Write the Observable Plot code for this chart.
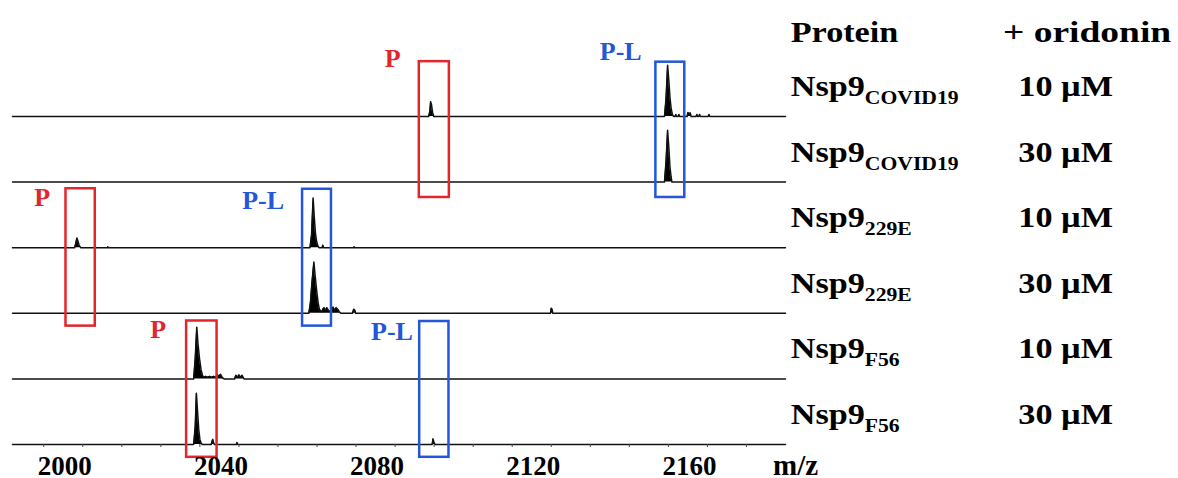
<!DOCTYPE html>
<html><head><meta charset="utf-8">
<script src="https://cdn.jsdelivr.net/npm/d3@7"></script>
<script src="https://cdn.jsdelivr.net/npm/@observablehq/plot@0.6"></script>
<style>body{margin:0;background:#fff}#chart{width:1178px;height:478px}</style>
</head><body><div id="chart"></div><script>
// ---- data ----
const rowStep = 128; // vertical offset between stacked spectra (intensity units)
const proteins = ["COVID19","COVID19","229E","229E","F56","F56"];
const doses = ["10 µM","30 µM","10 µM","30 µM","10 µM","30 µM"];
// spectra: [m/z, relative intensity]
const specCovid10 = [[1992,0],[2098.6,0],[2098.9,10],[2099.1,29],[2099.3,24],[2099.6,8],[2099.9,0],
  [2159.0,0],[2159.4,35],[2159.8,100],[2160.1,72],[2160.4,38],[2160.7,16],[2161.0,5],[2161.3,0],
  [2161.7,0],[2161.9,4],[2162.1,0],[2162.5,0],[2162.7,4],[2162.9,0],
  [2164.8,0],[2165.0,8],[2165.3,5],[2165.6,7],[2165.8,0],[2167.1,0],[2167.3,4],[2167.5,0],
  [2167.8,0],[2168.0,4],[2168.2,0],[2170.2,0],[2170.4,4],[2170.6,0],[2190,0]];
const specCovid30 = [[1992,0],[2159.0,0],[2159.4,40],[2159.8,101],[2160.1,70],[2160.4,30],[2160.7,10],[2160.9,0],[2190,0]];
const spec229E10 = [[1992,0],[2007.9,0],[2008.2,8],[2008.5,19],[2008.8,12],[2009.1,4],[2009.5,0],
  [2016.3,0],[2016.4,2],[2016.5,0],
  [2068.2,0],[2068.6,25],[2069.0,97],[2069.3,60],[2069.6,28],[2069.9,12],[2070.2,4],[2070.5,0],
  [2071.3,0],[2071.5,5],[2071.7,0],[2079.4,0],[2079.5,2],[2079.6,0],[2190,0]];
const spec229E30 = [[1992,0],[2067.9,0],[2068.3,20],[2068.7,60],[2069.2,100],[2069.5,75],[2069.9,45],[2070.3,20],
  [2070.6,8],[2070.9,5],[2071.2,3],[2071.5,8],[2071.8,11],[2072.1,5],[2072.5,11],[2072.9,6],[2073.3,3],
  [2073.7,9],[2074.1,12],[2074.5,6],[2074.9,11],[2075.3,8],[2075.7,3],[2076.1,0],
  [2079.1,0],[2079.4,8],[2079.7,6],[2079.9,0],[2129.8,0],[2130.0,10],[2130.2,8],[2130.4,0],[2190,0]];
const specF5610 = [[1992,0],[2038.4,0],[2038.8,40],[2039.2,101],[2039.5,70],[2039.9,40],[2040.3,18],[2040.7,6],
  [2041.0,3],[2041.5,5],[2042.0,3],[2042.5,5],[2043.0,3],[2043.5,5],[2044.0,3],[2044.5,8],[2044.9,5],
  [2045.3,9],[2045.7,3],[2046.2,0],[2048.9,0],[2049.2,7],[2049.6,3],[2050.0,8],[2050.4,3],[2050.8,7],[2051.3,0],[2190,0]];
const specF5630 = [[1992,0],[2038.4,0],[2038.8,35],[2039.1,100],[2039.4,65],[2039.7,30],[2040.0,10],[2040.3,3],[2040.6,0],
  [2042.9,0],[2043.1,6],[2043.3,10],[2043.5,4],[2043.7,0],[2049.4,0],[2049.5,4],[2049.7,0],
  [2099.5,0],[2099.7,11],[2099.9,6],[2100.2,0],[2190,0]];
const spectra = [specCovid10, specCovid30, spec229E10, spec229E30, specF5610, specF5630];
// highlight boxes
const boxGroups = ["P","P-L","P","P-L","P","P-L"];
const boxMz1 = [2096.2, 2156.8, 2005.7, 2066.3, 2036.6, 2096.3];
const boxMz2 = [2103.9, 2164.2, 2013.2, 2073.7, 2044.4, 2103.8];
const boxTop = [747, 746, 499, 498, 241, 240];
const boxBottom = [482, 482, 231, 231, -25, -25];
// box labels
const labelText = ["P","P-L","P","P-L","P","P-L"];
const labelMz = [2089.4, 2147.8, 1999.6, 2056.2, 2029.3, 2089.2];
const labelY = [753, 767, 482, 476, 224, 220];
// axis
const minorTicks = d3.range(2000, 2181, 10);
const tickLabels = [2000, 2040, 2080, 2120, 2160];

// ---- build tables ----
const points = spectra.flatMap((s, i) => s.map(([mz, v]) => ({row: i, mz, base: (5 - i) * rowStep, top: (5 - i) * rowStep + v})));
const boxes = boxGroups.map((g, i) => ({g, mz1: boxMz1[i], mz2: boxMz2[i], top: boxTop[i], bottom: boxBottom[i]}));
const labels = labelText.map((t, i) => ({t, mz: labelMz[i], y: labelY[i]}));
const RED = "#e3262c", BLUE = "#2356d8";
const FONT = "'Liberation Serif', 'Times New Roman', serif";

const plot = Plot.plot({
  width: 1178, height: 478,
  marginLeft: 12, marginRight: 393, marginTop: 0, marginBottom: 34,
  x: {domain: [1992, 2190]},
  y: {domain: [0, 5 * rowStep], range: [444, 116], axis: null},
  color: {domain: ["P", "P-L"], range: [RED, BLUE]},
  style: {fontFamily: FONT, background: "white", overflow: "visible"},
  marks: [
    Plot.areaY(points, {x: "mz", y1: "base", y2: "top", z: "row", fill: "black", curve: "linear"}),
    Plot.line(points, {x: "mz", y: "top", z: "row", stroke: "#111", strokeWidth: 1.5}),
    Plot.rect(boxes, {x1: "mz1", x2: "mz2", y1: "bottom", y2: "top", fill: "none", stroke: "g", strokeWidth: 2.5}),
    Plot.text(labels, {x: "mz", y: "y", text: "t", fill: d => d.t, fontSize: 26, fontWeight: "bold", fontFamily: FONT}),
    Plot.axisX({ticks: minorTicks, tickSize: 3, tickFormat: () => "", stroke: "#444"}),
    Plot.text(tickLabels, {x: d => d, text: d => String(d), frameAnchor: "bottom", lineAnchor: "top", dy: 11, dx: 21,
      fontSize: 27, fontWeight: "bold", fontFamily: FONT, fill: "black"})
  ]
});
document.getElementById("chart").appendChild(plot);

// ---- side table of sample labels ----
const svg = d3.select(plot);
const yScale = plot.scale("y");
const g = svg.append("g").attr("font-family", FONT).attr("font-weight", "bold")
  .attr("fill", "black").attr("text-anchor", "start");
const SX = 1.14;
function put(x, y, size, sx, parts) {
  const t = g.append("text").attr("text-anchor", "start")
    .attr("transform", `translate(${x},${y}) scale(${sx},1)`).attr("font-size", size);
  parts.forEach(p => {
    const s = t.append("tspan").text(p.text);
    if (p.sub) s.attr("font-size", 19).attr("dy", 8);
  });
}
put(790.7, 42, 30, SX, [{text: "Protein"}]);
put(1003, 42, 30, 1.25, [{text: "+ oridonin"}]);
proteins.forEach((p, i) => {
  const yb = yScale.apply((5 - i) * rowStep) - 20;
  put(790.7, yb, 30, SX, [{text: "Nsp9"}, {text: p, sub: true}]);
  put(1018.3, yb, 30, SX, [{text: doses[i]}]);
});
put(773, 475, 29, 1, [{text: "m/z"}]);
</script></body></html>
